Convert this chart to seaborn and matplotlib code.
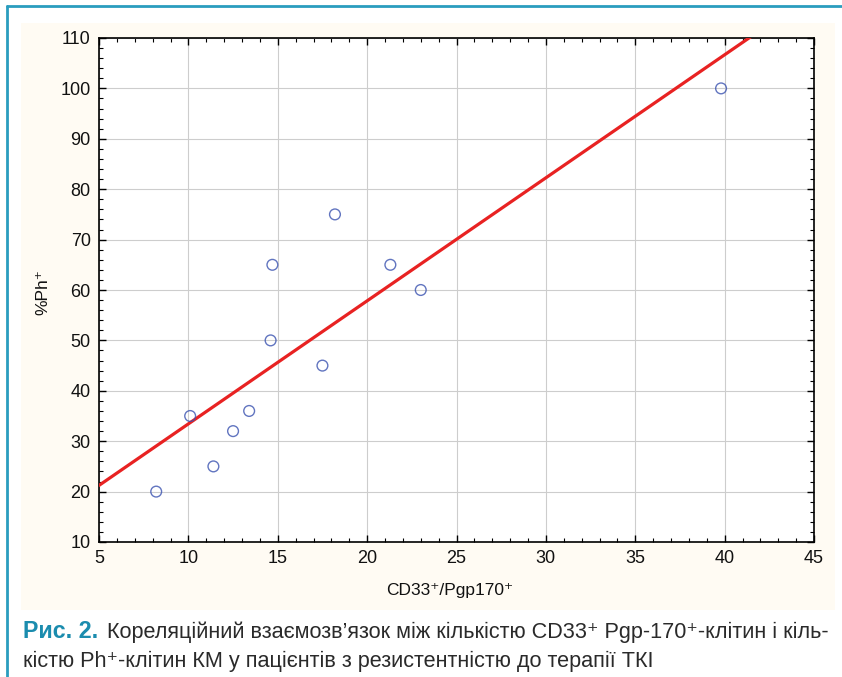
import numpy as np
import pandas as pd
import matplotlib
matplotlib.use("Agg")
import matplotlib.pyplot as plt
from matplotlib.patches import Rectangle
from matplotlib.lines import Line2D
from matplotlib.ticker import MultipleLocator
import seaborn as sns

cd33_pgp170 = [8.2, 10.1, 11.4, 12.5, 13.4, 14.6, 14.7, 17.5, 18.2, 21.3, 23.0, 39.8]
ph_percent = [20, 35, 25, 32, 36, 50, 65, 45, 75, 65, 60, 100]
x_ticks = [5, 10, 15, 20, 25, 30, 35, 40, 45]
y_ticks = [10, 20, 30, 40, 50, 60, 70, 80, 90, 100, 110]

df = pd.DataFrame({"x": cd33_pgp170, "y": ph_percent})

sns.set_theme(style="white")
FONT = ["Liberation Sans", "DejaVu Sans"]
plt.rcParams["font.family"] = FONT

W, H = 842, 677
fig = plt.figure(figsize=(W/100, H/100), dpi=100)
fig.patch.set_facecolor("white")

# cream panel
fig.add_artist(Rectangle((21/W, 1-610/H), (835-21)/W, (610-23)/H,
                         transform=fig.transFigure, facecolor="#FFFBF3",
                         edgecolor="none", zorder=0))
# teal frame lines
teal = "#2A9DBE"
fig.add_artist(Line2D([7/W, 7/W], [0, 1-6/H], transform=fig.transFigure,
                      color=teal, lw=2))
fig.add_artist(Line2D([7/W, 1], [1-6/H, 1-6/H], transform=fig.transFigure,
                      color=teal, lw=2))

ax = fig.add_axes([99/W, 1-542/H, (814-99)/W, (542-38)/H])
ax.set_facecolor("white")
ax.set_xlim(5, 45)
ax.set_ylim(10, 110)

sns.regplot(data=df, x="x", y="y", ax=ax, ci=None, truncate=False,
            scatter_kws=dict(s=60, facecolors="none", edgecolors="#3A52B0",
                             linewidths=1.0, zorder=4),
            line_kws=dict(color="#E82222", lw=2.3, zorder=3))
ax.set_xlim(5, 45)
ax.set_ylim(10, 110)

ax.set_xticks(x_ticks)
ax.set_yticks(y_ticks)
ax.xaxis.set_minor_locator(MultipleLocator(1))
ax.yaxis.set_minor_locator(MultipleLocator(2))
ax.tick_params(which="both", direction="in", top=True, right=True, bottom=True, left=True,
               color="black")
ax.tick_params(which="major", length=5, width=1, labelsize=13, pad=6, labelcolor="#111111")
ax.tick_params(which="minor", length=3, width=0.8)
ax.grid(True, which="major", color="#CDCDCD", lw=0.8)
for s in ax.spines.values():
    s.set_color("black")
    s.set_linewidth(1.2)

ax.set_xlabel("CD33⁺/Pgp170⁺", fontsize=12.5, color="#111111", va="center")
ax.set_ylabel("%Ph⁺", fontsize=12.5, color="#111111", va="center")
ax.xaxis.set_label_coords((450-99)/715, (542-590)/504)
ax.yaxis.set_label_coords((43-99)/715, (542-292)/504)

renderer = fig.canvas.get_renderer()

def fit_text(x0, x1, yc, s, base=15, **kw):
    t = fig.text(x0/W, 1-yc/H, s, fontsize=base, va="center", ha="left", **kw)
    w = t.get_window_extent(renderer).width
    t.set_fontsize(base * (x1 - x0) / w)
    return t

fit_text(23, 98, 632, "Рис. 2.", fontweight="bold", color="#1B8CAE")
fit_text(107, 829, 632, "Кореляційний взаємозв’язок між кількістю CD33⁺ Pgp-170⁺-клітин і кіль-",
         color="#2A2A2A")
fit_text(23, 657, 661, "кістю Ph⁺-клітин КМ у пацієнтів з резистентністю до терапії ТКІ",
         color="#2A2A2A")

fig.savefig("out.png", dpi=100, facecolor="white")
